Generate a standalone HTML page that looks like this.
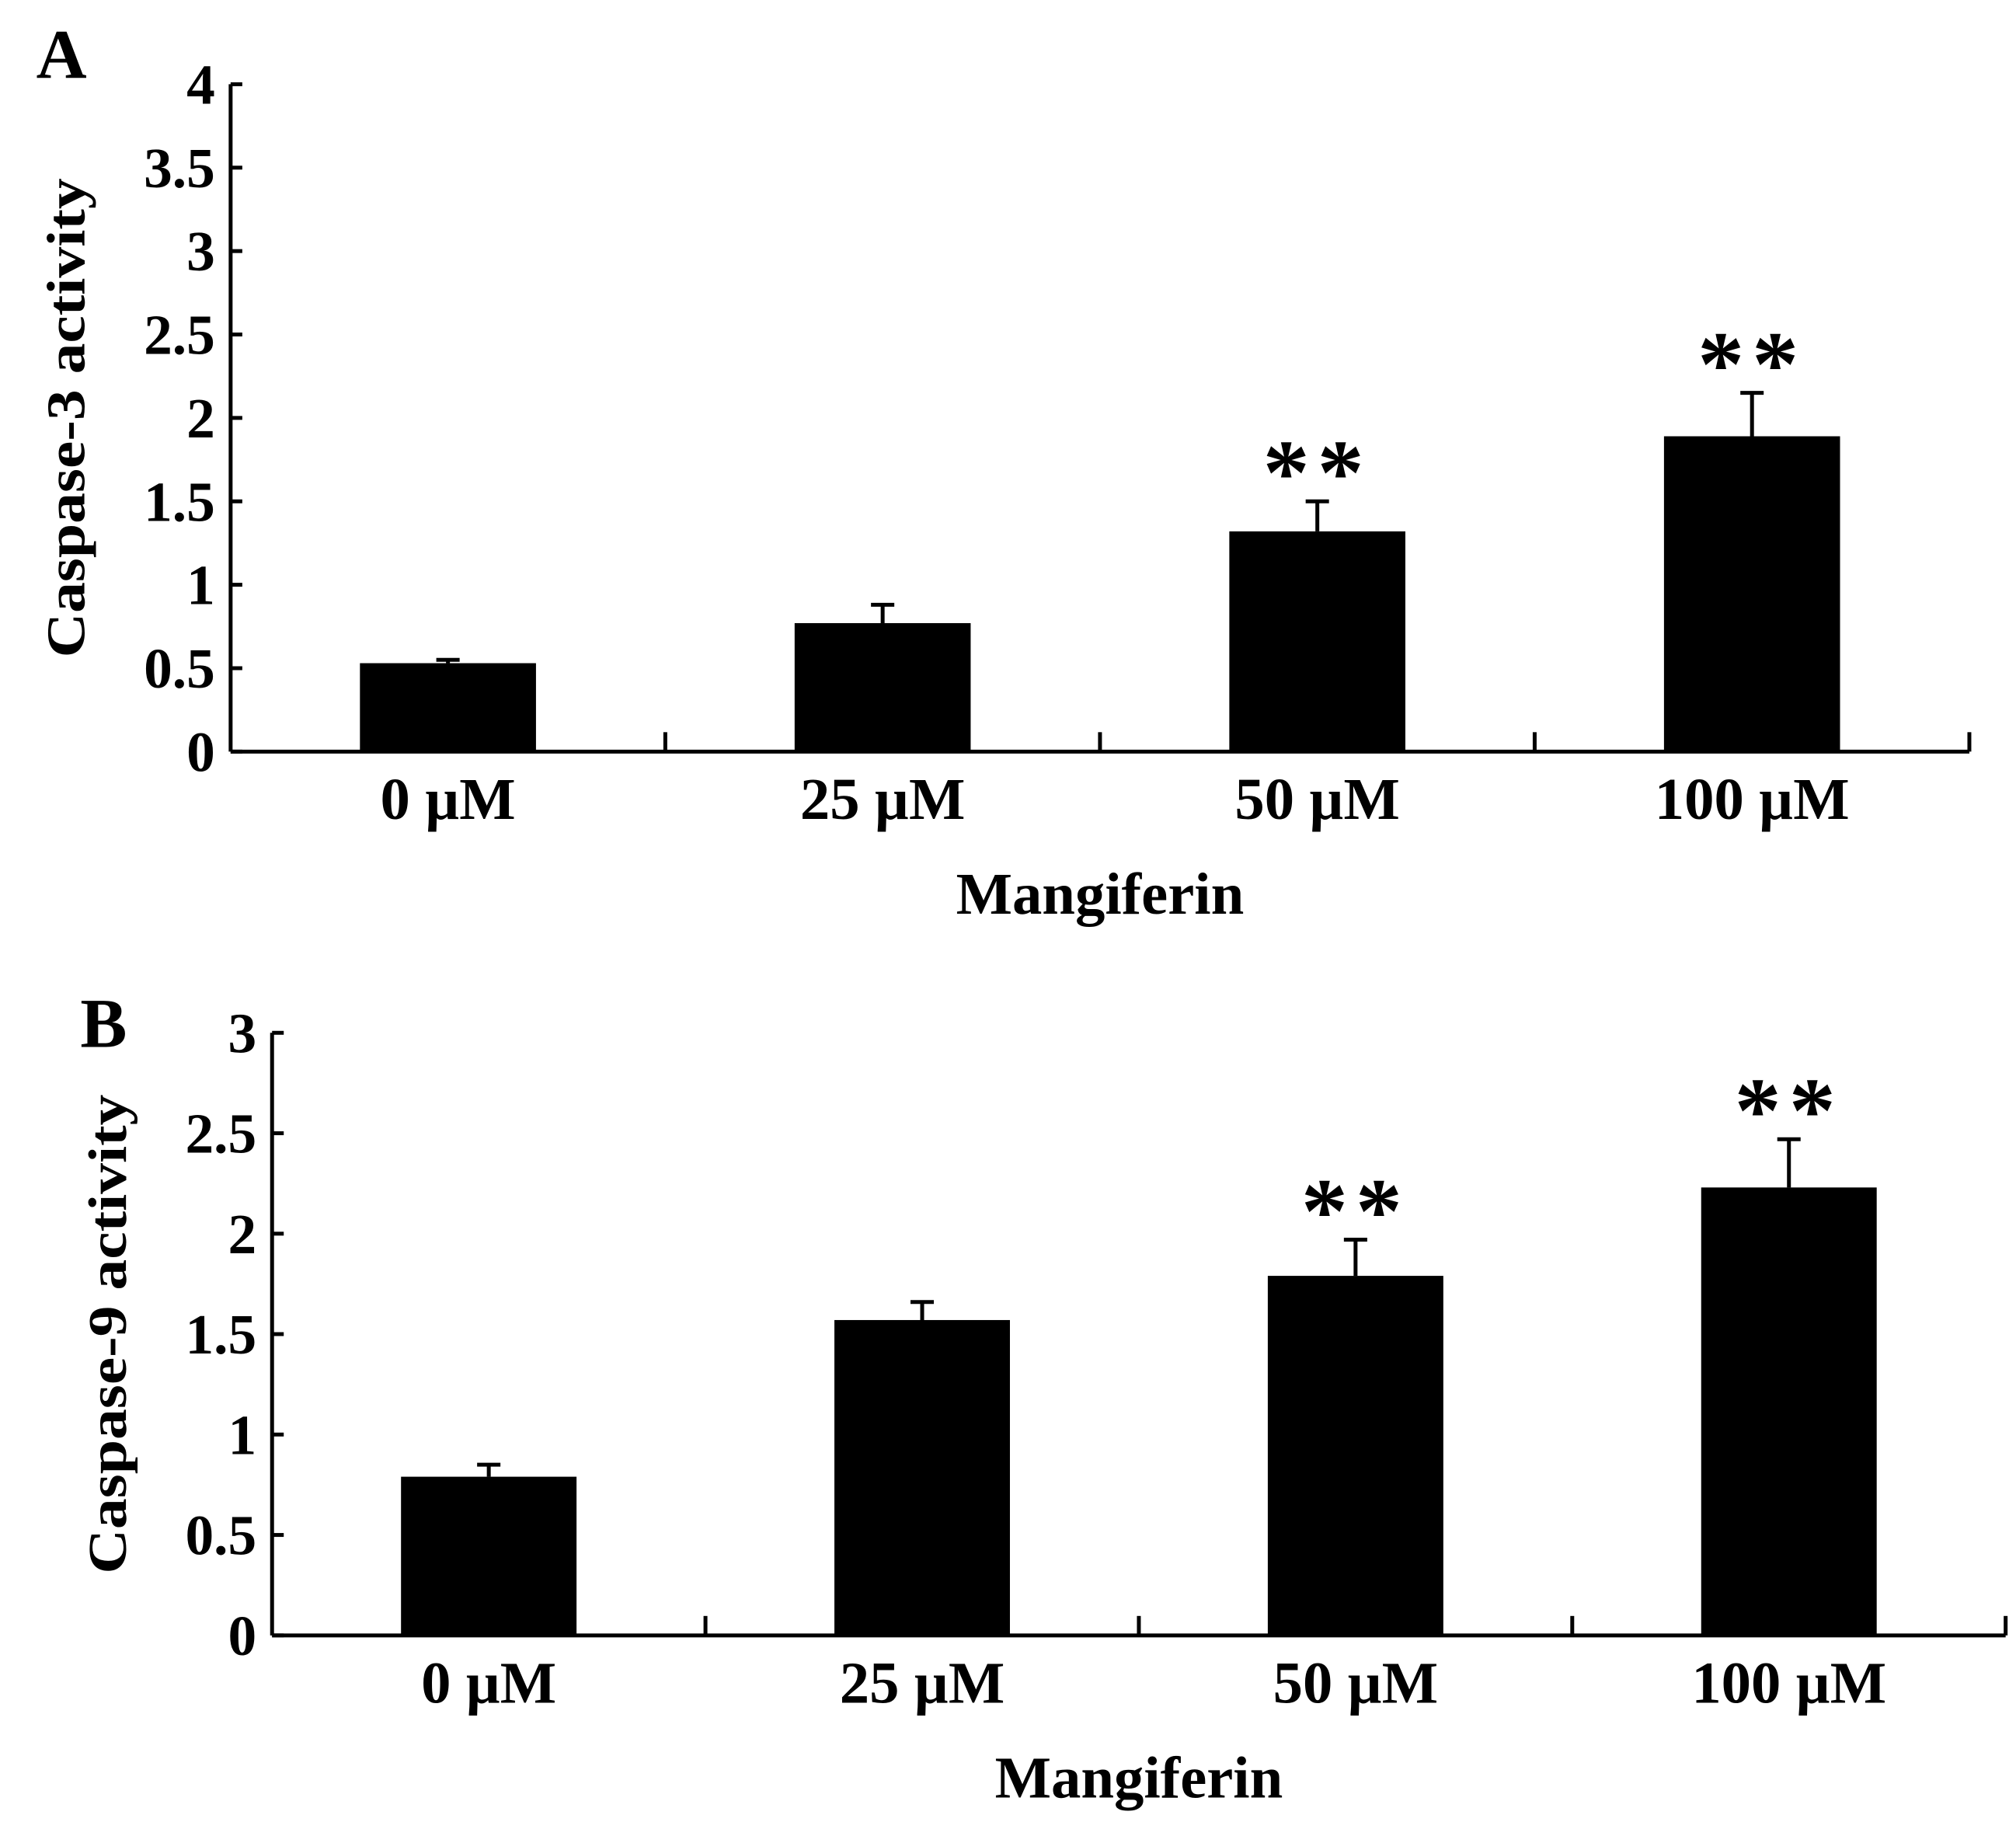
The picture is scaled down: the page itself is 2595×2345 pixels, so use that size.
<!DOCTYPE html>
<html><head><meta charset="utf-8"><style>
html,body{margin:0;padding:0;background:#fff;}
svg{display:block;}
text{font-family:"Liberation Serif",serif;font-weight:bold;fill:#000;}
</style></head><body>
<svg id="fig" width="2595" height="2345" viewBox="0 0 1556 1406" preserveAspectRatio="none" xmlns="http://www.w3.org/2000/svg"></svg>
<script>
const categories = ["0 µM","25 µM","50 µM","100 µM"];
const valuesA = [0.53, 0.77, 1.32, 1.89];
const errorsA = [0.55, 0.88, 1.50, 2.15];
const sigA = ["", "", "**", "**"];
const ticksA = [0,0.5,1,1.5,2,2.5,3,3.5,4];
const valuesB = [0.79, 1.57, 1.79, 2.23];
const errorsB = [0.85, 1.66, 1.97, 2.47];
const sigB = ["", "", "**", "**"];
const ticksB = [0,0.5,1,1.5,2,2.5,3];

const NS="http://www.w3.org/2000/svg";
const svg=document.getElementById('fig');
function mk(tag,attrs,parent){const e=document.createElementNS(NS,tag);for(const k in attrs)e.setAttribute(k,attrs[k]);(parent||svg).appendChild(e);return e;}

function panel(cfg){
  const g=mk('g',{});
  
  
  const {x0,x1,y0,yTop,max}=cfg;
  const y=v=>y0-(v/max)*(y0-yTop);
  const slot=(x1-x0)/cfg.cats.length;
  const xc=i=>x0+slot*(i+0.5);
  const L=mk('text',{x:cfg.lx,y:cfg.ly,'font-size':54},g);L.textContent=cfg.letter;
  
  
  const ya=mk('line',{x1:x0,y1:yTop,x2:x0,y2:y0,stroke:'#000','stroke-width':3},g);
  
  
  cfg.ticks.forEach(t=>{
    mk('line',{x1:x0,y1:y(t),x2:x0+9,y2:y(t),stroke:'#000','stroke-width':3},g);
    const tl=mk('text',{x:x0-12,y:y(t)+15,'font-size':44,'text-anchor':'end'},g);
    tl.textContent=String(t);
    
    
  });
  const xa=mk('line',{x1:x0,y1:y0,x2:x1,y2:y0,stroke:'#000','stroke-width':3},g);
  
  
  for(let i=1;i<=cfg.cats.length;i++){
    mk('line',{x1:x0+slot*i,y1:y0,x2:x0+slot*i,y2:y0-15,stroke:'#000','stroke-width':3},g);
  }
  const bw=slot*0.405;
  cfg.cats.forEach((c,i)=>{
    const b=mk('rect',{x:xc(i)-bw/2,y:y(cfg.vals[i]),width:bw,height:y0-y(cfg.vals[i]),fill:'#000'},g);
    
    
    const eb=mk('path',{d:`M${xc(i)} ${y(cfg.vals[i])}V${y(cfg.errs[i])}M${xc(i)-9} ${y(cfg.errs[i])}H${xc(i)+9}`,stroke:'#000','stroke-width':3,fill:'none'},g);
    
    
    const xl=mk('text',{x:xc(i),y:y0+52,'font-size':46,'text-anchor':'middle'},g);
    xl.textContent=c;
    
    
    if(cfg.sig[i]){
      const s=mk('text',{x:xc(i),y:y(cfg.errs[i])+2,'font-size':72,'text-anchor':'middle','letter-spacing':'6'},g);
      s.textContent=cfg.sig[i];
      
      
    }
  });
  const xt=mk('text',{x:(x0+x1)/2,y:y0+125,'font-size':46,'text-anchor':'middle'},g);
  xt.textContent='Mangiferin';
  
  
  const yt=mk('text',{x:0,y:0,'font-size':42,'text-anchor':'middle',transform:`translate(${cfg.ytx},${(yTop+y0)/2}) rotate(-90)`,textLength:cfg.ytl,lengthAdjust:'spacingAndGlyphs'},g);
  yt.textContent=cfg.ytitle;
  
  
}
panel({name:'panel-a-caspase3',letter:'A',lx:28,ly:60,x0:178,x1:1520,y0:580,yTop:65,max:4,ticks:ticksA,cats:categories,vals:valuesA,errs:errorsA,sig:sigA,ytitle:'Caspase-3 activity',ytx:65,ytl:370});
panel({name:'panel-b-caspase9',letter:'B',lx:62,ly:808,x0:210,x1:1548,y0:1262,yTop:797,max:3,ticks:ticksB,cats:categories,vals:valuesB,errs:errorsB,sig:sigB,ytitle:'Caspase-9 activity',ytx:97,ytl:370});
</script>
</body></html>
